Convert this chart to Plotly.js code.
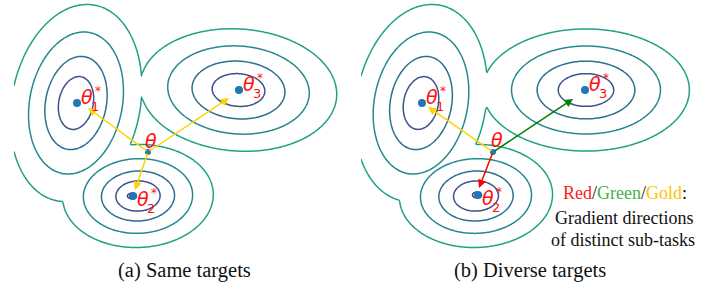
<!DOCTYPE html>
<html><head><meta charset="utf-8">
<script src="https://cdn.plot.ly/plotly-3.0.1.min.js"></script>
<style>html,body{margin:0;padding:0;background:#fff}#chart{width:725px;height:293px}</style>
</head><body><div id="chart"></div>
<script>
// ---- Data: basin components (centre x, centre y, sigma along u, sigma along v, rotation deg, depth)
// order: theta1* basin, theta2* basin, theta3* basin, theta2* narrow core
const basinCx_a  = [76, 138, 238.5, 132];
const basinCy_a  = [103, 196, 90, 196];
const basinSu_a  = [25.8, 30, 39.5, 11];
const basinSv_a  = [40, 20.5, 24.5, 7];
const basinRot_a = [11, -2, 4, 0];
const basinAmp_a = [1.0, 1.05, 1.0, 1.2];

const basinCx_b  = [421, 476, 586, 477];
const basinCy_b  = [103, 196, 90, 195];
const basinSu_b  = [26, 30.5, 41.5, 11];
const basinSv_b  = [40, 20.5, 24.5, 7];
const basinRot_b = [11, -2, 0, 0];
const basinAmp_b = [1.0, 1.05, 1.0, 1.2];

const contourLevels = [0.045, 0.2, 0.5, 0.8, 1.1];
const contourColors = ['#1fa088', '#23898e', '#2d708e', '#3b528b', '#453781'];

// optimum points theta1*, theta2*, theta3* and current theta
const targetNames = ['1', '2', '3'];
const targetX_a = [77, 133, 239];
const targetY_a = [103, 196, 90];
const thetaX_a = 148, thetaY_a = 152;
const arrowHeadX_a = [88, 135, 229];
const arrowHeadY_a = [108, 190, 98];
const arrowColor_a = ['#ffd200', '#ffd200', '#ffd200'];

const targetX_b = [422, 478, 585];
const targetY_b = [103, 195, 90];
const thetaX_b = 493, thetaY_b = 152;
const arrowHeadX_b = [428, 479, 573];
const arrowHeadY_b = [107, 188, 99];
const arrowColor_b = ['#ffd200', '#ff0000', '#008000'];

const captions = ['(a) Same targets', '(b) Diverse targets'];

// ---- build: landscape value = strongest basin at each grid node
function grid(x0, x1, y0, y1, cx, cy, su, sv, rot, amp) {
  const xs = [], ys = [], z = [];
  for (let x = x0; x <= x1; x += 1.5) xs.push(x);
  for (let y = y0; y <= y1; y += 1.5) ys.push(y);
  for (const y of ys) {
    const row = [];
    for (const x of xs) {
      let s = 0;
      for (let k = 0; k < cx.length; k++) {
        const a = rot[k] * Math.PI / 180;
        const dx = x - cx[k], dy = y - cy[k];
        const u = dx * Math.cos(a) + dy * Math.sin(a);
        const v = -dx * Math.sin(a) + dy * Math.cos(a);
        s = Math.max(s, amp[k] * Math.exp(-0.5 * (u * u / (su[k] * su[k]) + v * v / (sv[k] * sv[k]))));
      }
      row.push(s);
    }
    z.push(row);
  }
  return {xs, ys, z};
}

const traces = [];
function addContours(g) {
  contourLevels.forEach((L, i) => {
    traces.push({
      type: 'contour', x: g.xs, y: g.ys, z: g.z,
      autocontour: false,
      contours: {start: L, end: L, size: 1, coloring: 'lines', showlabels: false},
      colorscale: [[0, contourColors[i]], [1, contourColors[i]]],
      line: {width: 1.5, smoothing: 0.6},
      showscale: false, hoverinfo: 'skip'
    });
  });
}
addContours(grid(14, 356, 0, 252, basinCx_a, basinCy_a, basinSu_a, basinSv_a, basinRot_a, basinAmp_a));
addContours(grid(361, 720, 0, 252, basinCx_b, basinCy_b, basinSu_b, basinSv_b, basinRot_b, basinAmp_b));

traces.push({type: 'scatter', mode: 'markers', x: targetX_a.concat(targetX_b), y: targetY_a.concat(targetY_b),
  marker: {size: 8, color: '#1f77b4'}, hoverinfo: 'skip'});
traces.push({type: 'scatter', mode: 'markers', x: [thetaX_a, thetaX_b], y: [thetaY_a, thetaY_b],
  marker: {size: 6, color: '#1f77b4'}, hoverinfo: 'skip'});

const ann = [];
function arrows(tx, ty, hx, hy, col) {
  hx.forEach((x, i) => ann.push({x: x, y: hy[i], ax: tx, ay: ty, xref: 'x', yref: 'y', axref: 'x', ayref: 'y',
    showarrow: true, arrowhead: 2, arrowsize: 1.1, arrowwidth: 1.5, arrowcolor: col[i], text: '', standoff: 0}));
}
arrows(thetaX_a, thetaY_a, arrowHeadX_a, arrowHeadY_a, arrowColor_a);
arrows(thetaX_b, thetaY_b, arrowHeadX_b, arrowHeadY_b, arrowColor_b);

const red = '#ff1010';
const mfont = (s) => ({family: 'DejaVu Sans', size: s, color: red});
function labels(tx, ty) {
  tx.forEach((x, i) => {
    const dy = (targetNames[i] === '2') ? 3 : -6;
    ann.push({x: x + 10, y: ty[i] + dy, text: '<i>θ</i>', showarrow: false, font: mfont(19), xanchor: 'center', yanchor: 'middle'});
    ann.push({x: x + 18, y: ty[i] + dy + 9, text: targetNames[i], showarrow: false, font: mfont(13), xanchor: 'center', yanchor: 'middle'});
    ann.push({x: x + 21, y: ty[i] + dy - 6, text: '*', showarrow: false, font: mfont(12), xanchor: 'center', yanchor: 'middle'});
  });
}
labels(targetX_a, targetY_a);
labels(targetX_b, targetY_b);
ann.push({x: thetaX_a + 3, y: thetaY_a - 11, text: '<i>θ</i>', showarrow: false, font: mfont(19), yanchor: 'middle'});
ann.push({x: thetaX_b + 4, y: thetaY_b - 12, text: '<i>θ</i>', showarrow: false, font: mfont(19), yanchor: 'middle'});

const serif = (s, c) => ({family: 'Liberation Serif', size: s, color: c || '#111'});
ann.push({x: 625, y: 193, text: "<span style='color:#ff1a1a'>Red</span>/<span style='color:#45b050'>Green</span>/<span style='color:#ffc000'>Gold</span>:",
  showarrow: false, font: serif(18), yanchor: 'middle'});
ann.push({x: 624, y: 218, text: 'Gradient directions', showarrow: false, font: serif(18), yanchor: 'middle'});
ann.push({x: 623, y: 240, text: 'of distinct sub-tasks', showarrow: false, font: serif(18), yanchor: 'middle'});
ann.push({x: 184, y: 270, text: captions[0], showarrow: false, font: serif(20.5), yanchor: 'middle'});
ann.push({x: 530, y: 270, text: captions[1], showarrow: false, font: serif(20.5), yanchor: 'middle'});

const layout = {
  width: 725, height: 293, margin: {l: 0, r: 0, t: 0, b: 0},
  paper_bgcolor: '#fff', plot_bgcolor: '#fff', showlegend: false,
  xaxis: {range: [0, 725], visible: false, fixedrange: true},
  yaxis: {range: [293, 0], visible: false, fixedrange: true},
  annotations: ann
};
Plotly.newPlot('chart', traces, layout, {staticPlot: true});
</script></body></html>
